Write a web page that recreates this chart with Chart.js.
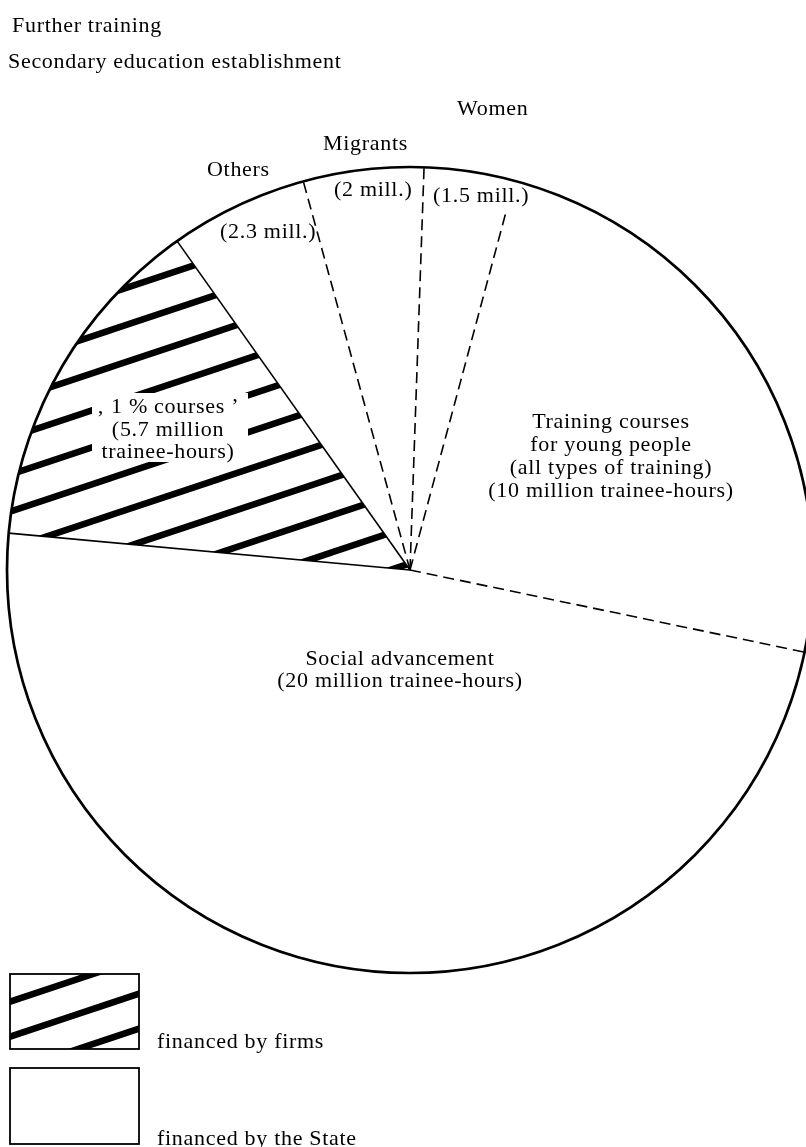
<!DOCTYPE html>
<html>
<head>
<meta charset="utf-8">
<script src="https://cdn.jsdelivr.net/npm/chart.js@4.4.1/dist/chart.umd.min.js"></script>
<style>
  html, body { margin: 0; padding: 0; background: #fff; overflow: hidden; }
</style>
</head>
<body>
<canvas id="pieChart" width="806" height="1147"></canvas>
<script>
// million trainee-hours, clockwise from the top
const segments = ['Women', 'Training courses for young people', 'Social advancement', '1 % courses', 'Others', 'Migrants'];
const traineeHours = [1.5, 10, 20, 5.7, 2.3, 2];
const financedBy = ['State', 'State', 'State', 'firms', 'State', 'State'];

const serif = '"Liberation Serif", "Times New Roman", serif';

// diagonal stripes, slope 1/3, lines where y + x/3 = k*gap + phase
function makeHatch(gap, phase) {
  const c = document.createElement('canvas');
  c.width = gap * 3;
  c.height = gap;
  const g = c.getContext('2d');
  g.fillStyle = '#fff';
  g.fillRect(0, 0, c.width, c.height);
  g.strokeStyle = '#000';
  g.lineWidth = 6.5;
  for (let k = -1; k <= 2; k++) {
    const c0 = k * gap + phase;
    g.beginPath();
    g.moveTo(-gap, c0 + gap / 3);
    g.lineTo(4 * gap, c0 - 4 * gap / 3);
    g.stroke();
  }
  return g.createPattern(c, 'repeat');
}

const pieHatch = makeHatch(37, 34);
const legendHatch = makeHatch(35, 25);

// Plugin 1: outer circle and the radial edges (solid next to the firms slice)
const outlines = {
  id: 'outlines',
  afterDatasetsDraw(chart) {
    const ctx = chart.ctx;
    const arcs = chart.getDatasetMeta(0).data;
    const { x, y, outerRadius } = arcs[0].getProps(['x', 'y', 'outerRadius'], true);
    ctx.save();
    ctx.strokeStyle = '#000';
    arcs.forEach((arc, i) => {
      const prev = (i + arcs.length - 1) % arcs.length;
      const solid = financedBy[i] === 'firms' || financedBy[prev] === 'firms';
      const a = arc.getProps(['startAngle'], true).startAngle;
      ctx.beginPath();
      ctx.setLineDash(solid ? [] : [11, 6]);
      ctx.lineWidth = 1.6;
      ctx.moveTo(x, y);
      ctx.lineTo(x + Math.cos(a) * outerRadius, y + Math.sin(a) * outerRadius);
      ctx.stroke();
    });
    // the Women / Training edge stops short under the "(1.5 mill.)" label
    ctx.fillStyle = '#fff';
    ctx.fillRect(431, 182, 102, 27);
    ctx.setLineDash([]);
    ctx.lineWidth = 2.7;
    ctx.beginPath();
    ctx.arc(x, y, outerRadius, 0, Math.PI * 2);
    ctx.stroke();
    ctx.restore();
  }
};

// Plugin 2: headings, slice labels and the key
const annotations = {
  id: 'annotations',
  afterDraw(chart) {
    const ctx = chart.ctx;
    ctx.save();
    ctx.font = '22px ' + serif;
    ctx.letterSpacing = '0.7px';
    ctx.fillStyle = '#000';
    ctx.textBaseline = 'alphabetic';

    const put = (text, x, y, align) => {
      ctx.textAlign = align || 'left';
      ctx.fillText(text, x, y);
    };

    put('Further training', 12, 32);
    put('Secondary education establishment', 8, 68);

    put('Women', 457, 115);
    put('Migrants', 323, 150);
    put('Others', 207, 176);
    put('(2 mill.)', 334, 196);
    put('(1.5 mill.)', 433, 202);
    put('(2.3 mill.)', 220, 238);

    put('Training courses', 611, 428, 'center');
    put('for young people', 611, 451, 'center');
    put('(all types of training)', 611, 474, 'center');
    put('(10 million trainee-hours)', 611, 497, 'center');

    put('Social advancement', 400, 665, 'center');
    put('(20 million trainee-hours)', 400, 687, 'center');

    // clear the stripes behind the firms label
    ctx.fillStyle = '#fff';
    ctx.fillRect(92, 393, 156, 69);
    ctx.fillStyle = '#000';
    put('\u201A 1 % courses \u2019', 168, 413, 'center');
    put('(5.7 million', 168, 436, 'center');
    put('trainee-hours)', 168, 458, 'center');

    // key
    ctx.lineWidth = 1.8;
    ctx.strokeStyle = '#000';
    ctx.fillStyle = legendHatch;
    ctx.fillRect(10, 974, 129, 75);
    ctx.strokeRect(10, 974, 129, 75);
    ctx.fillStyle = '#fff';
    ctx.fillRect(10, 1068, 129, 76);
    ctx.strokeRect(10, 1068, 129, 76);
    ctx.fillStyle = '#000';
    put('financed by firms', 157, 1048);
    put('financed by the State', 157, 1145);
    ctx.restore();
  }
};

const pieCtx = document.getElementById('pieChart').getContext('2d');
const pieChart = new Chart(pieCtx, {
  type: 'pie',
  data: {
    labels: segments,
    datasets: [{
      data: traineeHours,
      backgroundColor: financedBy.map(f => f === 'firms' ? pieHatch : '#ffffff'),
      borderWidth: 0
    }]
  },
  options: {
    responsive: false,
    devicePixelRatio: 1,
    animation: false,
    events: [],
    rotation: 2,
    radius: 403,
    layout: { padding: { left: 14, right: 0, top: 0, bottom: 7 } },
    plugins: {
      legend: { display: false },
      tooltip: { enabled: false },
      title: { display: false }
    }
  },
  plugins: [outlines, annotations]
});
</script>
</body>
</html>
